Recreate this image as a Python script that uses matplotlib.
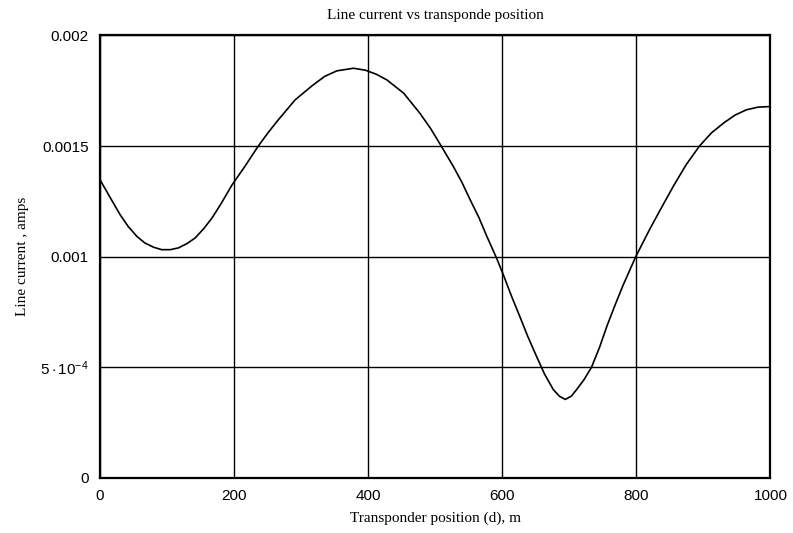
import matplotlib
matplotlib.use("Agg")
import matplotlib.pyplot as plt
from matplotlib.ticker import FixedLocator, FixedFormatter

position_m = [0, 17, 30, 42, 55, 67, 80, 92, 105, 117, 130, 142, 155, 167, 180,
              197, 216, 236, 251, 266, 291, 316, 335, 353, 378, 396, 412, 428,
              453, 477, 493, 509, 527, 540, 552, 565, 577, 592, 602, 614, 626,
              638, 651, 663, 676, 685, 694, 703, 711, 722, 733, 745, 756, 768,
              780, 799, 820, 838, 855, 874, 894, 912, 930, 947, 964, 981, 1000]
current_mA = [1.348, 1.258, 1.19, 1.137, 1.092, 1.062, 1.043, 1.032, 1.032,
              1.04, 1.06, 1.085, 1.128, 1.175, 1.237, 1.325, 1.408, 1.50,
              1.562, 1.619, 1.709, 1.772, 1.815, 1.840, 1.852, 1.843, 1.825,
              1.799, 1.739, 1.649, 1.58, 1.50, 1.408, 1.335, 1.258, 1.178,
              1.092, 0.99, 0.915, 0.82, 0.731, 0.64, 0.55, 0.47, 0.40, 0.37,
              0.355, 0.37, 0.40, 0.445, 0.50, 0.59, 0.686, 0.78, 0.87, 1.0,
              1.125, 1.225, 1.318, 1.415, 1.50, 1.56, 1.604, 1.64, 1.664,
              1.676, 1.679]
current_A = [v * 1e-3 for v in current_mA]

x_ticks = [0, 200, 400, 600, 800, 1000]
x_tick_labels = ["0", "200", "400", "600", "800", "1000"]
y_ticks = [0, 0.0005, 0.001, 0.0015, 0.002]
y_tick_labels = ["0", r"$5\cdot10^{-4}$", "0.001", "0.0015", "0.002"]

plt.rcParams["mathtext.fontset"] = "custom"
plt.rcParams["mathtext.rm"] = "Liberation Sans"
plt.rcParams["mathtext.it"] = "Liberation Sans"

fig = plt.figure(figsize=(7.93, 5.33), dpi=100)
ax = fig.add_axes([0.1261, 0.1032, 0.9716 - 0.1261, 0.9334 - 0.1032])

ax.plot(position_m, current_A, color="black", lw=1.2)
ax.set_xlim(0, 1000)
ax.set_ylim(0, 0.002)

ax.xaxis.set_major_locator(FixedLocator(x_ticks))
ax.xaxis.set_major_formatter(FixedFormatter(x_tick_labels))
ax.yaxis.set_major_locator(FixedLocator(y_ticks))
ax.yaxis.set_major_formatter(FixedFormatter(y_tick_labels))
ax.grid(True, color="black", lw=1.0)
ax.tick_params(length=0, pad=8, labelsize=11)
for lab in ax.get_xticklabels() + ax.get_yticklabels():
    lab.set_family("Liberation Sans")
for sp in ax.spines.values():
    sp.set_linewidth(1.6)

serif = "Liberation Serif"
ax.set_title("Line current vs transponde position", family=serif, fontsize=11, pad=12)
ax.set_xlabel("Transponder position (d), m", family=serif, fontsize=11, labelpad=6)
ax.set_ylabel("Line current , amps", family=serif, fontsize=11, labelpad=8)

fig.savefig("out.png", dpi=100)
